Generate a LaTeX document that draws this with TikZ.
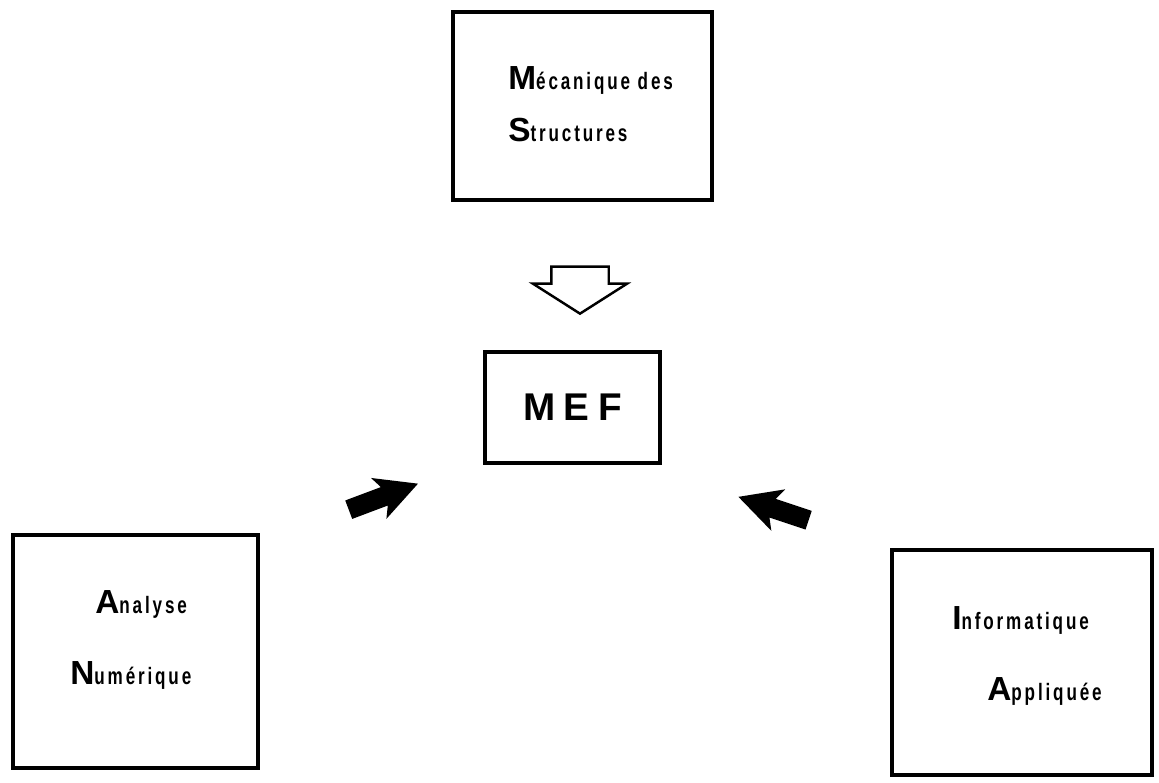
\documentclass[tikz,border=0pt]{standalone}
\usepackage{fontspec}
\setmainfont{Liberation Sans}
\newfontfamily\textefont{Liberation Sans}[LetterSpace=12,FakeStretch=0.72]
\newfontfamily\sigle{Liberation Sans}[LetterSpace=22]
\usetikzlibrary{shapes.arrows}
\newcommand{\grande}[2]{{\bfseries\fontsize{19}{21}\selectfont #1}{\textefont\bfseries\fontsize{13.5}{15}\selectfont #2}}
\tikzset{
	cadre/.style={draw, line width=2.6pt, inner sep=0pt},
	fleche/.style={single arrow, fill=black, inner xsep=0pt, inner ysep=0.19cm, minimum height=1.48cm, single arrow head extend=0.24cm, single arrow tip angle=55, single arrow head indent=0.12cm},
	flechecreuse/.style={single arrow, draw, line width=1.4pt, inner xsep=0pt, inner ysep=0.55cm, minimum height=0.94cm, single arrow head extend=0.37cm, single arrow tip angle=115, rotate=-90}
}
\begin{document}
\begin{tikzpicture}
	\useasboundingbox (0,0) rectangle (23.18,15.64);
	\node[cadre, minimum width=5.18cm, minimum height=3.76cm] (meca) at (11.65,13.52) {};
	\node[cadre, minimum width=3.5cm, minimum height=2.22cm] (mef) at (11.45,7.49) {\sigle\bfseries\fontsize{22}{24}\selectfont MEF};
	\node[cadre, minimum width=4.9cm, minimum height=4.66cm] (analyse) at (2.71,2.61) {};
	\node[cadre, minimum width=5.2cm, minimum height=4.5cm] (info) at (20.44,2.39) {};
	\node[anchor=base west, inner sep=0pt] (meca1) at (10.16,13.84) {\grande{M}{écanique des}};
	\node[anchor=base west, inner sep=0pt] (meca2) at (10.16,12.80) {\grande{S}{tructures}};
	\node[anchor=base west, inner sep=0pt] (ana1) at (1.90,3.38) {\grande{A}{nalyse}};
	\node[anchor=base west, inner sep=0pt] (ana2) at (1.40,1.96) {\grande{N}{umérique}};
	\node[anchor=base west, inner sep=0pt] (info1) at (19.04,3.05) {\grande{I}{nformatique}};
	\node[anchor=base west, inner sep=0pt] (info2) at (19.74,1.64) {\grande{A}{ppliquée}};
	\node[flechecreuse] (versmef) at (11.6,10.02) {};
	\node[fleche, rotate=20.6] (fleche1) at (7.49,5.64) {};
	\node[fleche, rotate=161.6] (fleche2) at (15.65,5.41) {};
\end{tikzpicture}
\end{document}
